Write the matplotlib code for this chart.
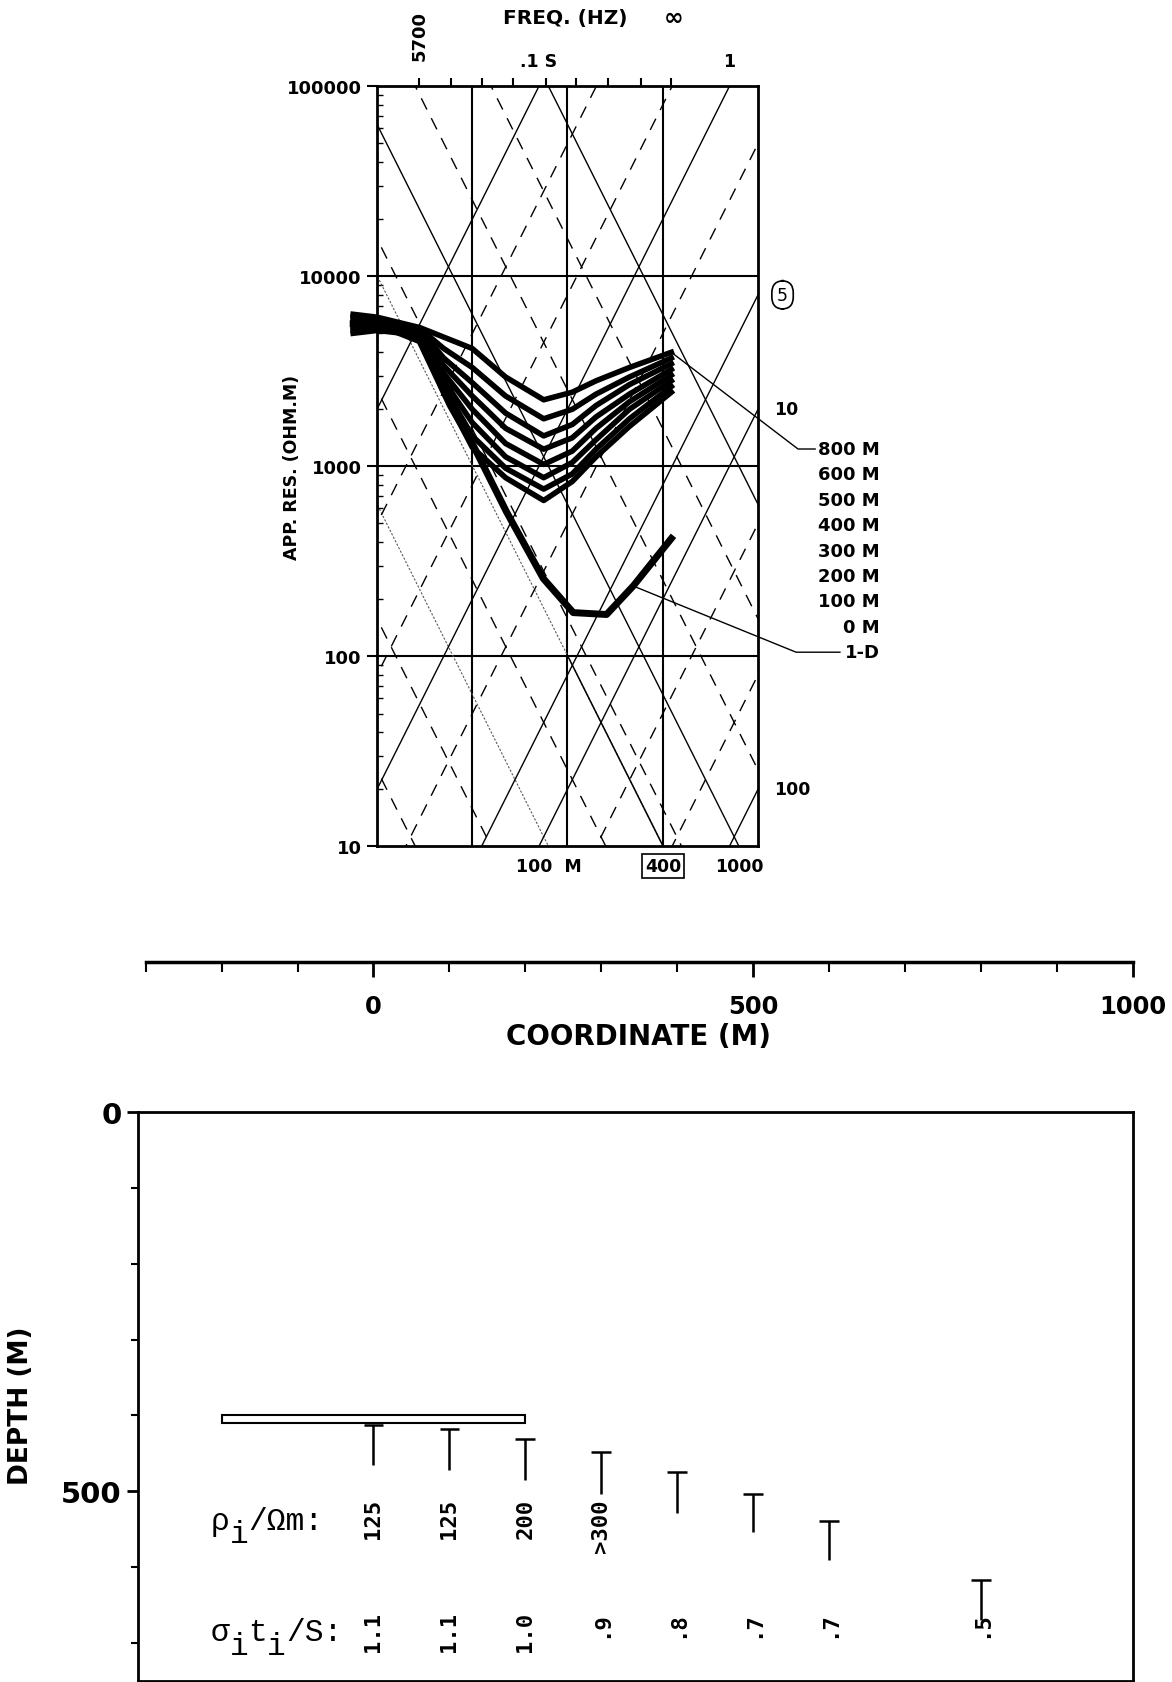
import numpy as np
import matplotlib.pyplot as plt
from matplotlib.patches import Rectangle
from matplotlib.ticker import NullFormatter

plt.rcParams['font.family'] = ['DejaVu Sans']
plt.rcParams['font.weight'] = 'bold'

# sounding curves: log10 apparent resistivity against period (decades from the left frame)
period = [-0.25, 0.0, 0.45, 0.7, 1.0, 1.35, 1.75, 2.05, 2.3, 2.65, 3.09]
res_800 = [3.80, 3.785, 3.73, 3.68, 3.62, 3.47, 3.35, 3.39, 3.45, 3.52, 3.60]
res_600 = [3.79, 3.775, 3.725, 3.62, 3.52, 3.37, 3.25, 3.30, 3.38, 3.47, 3.57]
res_500 = [3.775, 3.765, 3.72, 3.57, 3.44, 3.28, 3.16, 3.22, 3.32, 3.43, 3.54]
res_400 = [3.76, 3.755, 3.715, 3.53, 3.37, 3.20, 3.09, 3.15, 3.26, 3.38, 3.51]
res_300 = [3.745, 3.745, 3.71, 3.49, 3.30, 3.12, 3.01, 3.08, 3.20, 3.34, 3.48]
res_200 = [3.73, 3.735, 3.70, 3.45, 3.23, 3.05, 2.94, 3.02, 3.14, 3.30, 3.45]
res_100 = [3.715, 3.725, 3.695, 3.42, 3.16, 2.99, 2.88, 2.96, 3.09, 3.25, 3.42]
res_0 = [3.70, 3.715, 3.69, 3.39, 3.10, 2.94, 2.82, 2.92, 3.05, 3.21, 3.39]
curve_names = ['800 M', '600 M', '500 M', '400 M', '300 M', '200 M', '100 M', '0 M', '1-D']

period_1d = [-0.25, 0.0, 0.45, 0.77, 1.01, 1.36, 1.745, 2.06, 2.41, 2.69, 3.09]
res_1d = [3.75, 3.75, 3.66, 3.32, 3.11, 2.76, 2.41, 2.23, 2.22, 2.37, 2.62]

# nomogram: depth lines (m) and conductance lines (S)
depth_solid = [1000, 10000]
depth_faint = [100, 400]
depth_dashed = [20, 50, 200, 500, 2000, 5000]
depth_labels = [100, 400, 1000]
cond_solid = [0.1, 1, 5, 10, 100]
cond_dashed = [0.2, 0.5, 2, 20, 50]
cond_top_labels = [0.1, 1]
cond_right_labels = [5, 10, 100]
freq_ticks = [0.44, 0.78, 1.10, 1.43, 1.77, 2.09, 2.42, 2.77, 3.09]

# model section
station_x = [0, 100, 200, 300, 400, 500, 600, 800]
top_depth = [413, 418, 431, 448, 474, 503, 539, 617]
bottom_depth = [465, 472, 485, 503, 529, 554, 591, 669]
rho_text = ['125', '125', '200', '>300']
sigma_text = ['1.1', '1.1', '1.0', '.9', '.8', '.7', '.7', '.5']


def depth_rho(d, u):
    return d ** 2 * 10.0 ** (-1.2 - np.asarray(u))


def cond_rho(s, u):
    return 10.0 ** (1.3 + np.asarray(u)) / s ** 2


fig = plt.figure(figsize=(11.72, 16.83), dpi=100)
fig.patch.set_facecolor('white')

# ---------------- apparent resistivity panel ----------------
ax = fig.add_axes([0.32167, 0.49655, 0.32509, 0.45158])
ax.set_xlim(0, 4)
ax.set_yscale('log')
ax.set_ylim(10, 1e5)
for s in ax.spines.values():
    s.set_linewidth(2)

ax.set_yticks([10, 100, 1000, 1e4, 1e5], ['10', '100', '1000', '10000', '100000'])
ax.yaxis.set_minor_formatter(NullFormatter())
ax.tick_params(axis='y', which='major', direction='out', length=7, width=1.5,
               labelsize=13, pad=4)
ax.tick_params(axis='y', which='minor', direction='in', length=4, width=1)
ax.set_xticks(freq_ticks)
ax.tick_params(axis='x', which='both', bottom=False, top=True, direction='out',
               length=6, width=1.5, labelbottom=False, labeltop=False)

for yv in [100, 1000, 1e4]:
    ax.axhline(yv, color='black', lw=1.5)
for xv in [1, 2, 3]:
    ax.axvline(xv, color='black', lw=1.5)

u_line = np.array([-1.0, 5.0])
for d in depth_solid:
    ax.plot(u_line, depth_rho(d, u_line), color='black', lw=1.0)
for d in depth_dashed:
    ax.plot(u_line, depth_rho(d, u_line), color='black', lw=1.0, ls=(0, (9, 7)))
for d in depth_faint:
    ax.plot(u_line, depth_rho(d, u_line), color='0.35', lw=0.8, ls=(0, (2, 1.5)))
u_seg = np.array([2.0, 4.0])
ax.plot(u_seg, depth_rho(400, u_seg), color='black', lw=1.1)
for s in cond_solid:
    ax.plot(u_line, cond_rho(s, u_line), color='black', lw=1.0)
for s in cond_dashed:
    ax.plot(u_line, cond_rho(s, u_line), color='black', lw=1.0, ls=(0, (9, 7)))

# model curves
for vals in [res_800, res_600, res_500, res_400, res_300, res_200, res_100, res_0]:
    ax.plot(period, 10.0 ** np.array(vals), color='black', lw=4, clip_on=False,
            solid_joinstyle='round', zorder=5)
ax.plot(period_1d, 10.0 ** np.array(res_1d), color='black', lw=5, clip_on=False, zorder=5)

# curve labels with leaders
label_v = [1 + (847.3 - (450 + 25.4 * i)) / 190 for i in range(len(curve_names))]
for name, v in zip(curve_names, label_v):
    ax.text(5.28, 10 ** v, name, ha='right', va='center', fontsize=13)
ax.plot([period[-1], 4.42, 4.60], [10 ** res_800[-1], 10 ** label_v[0], 10 ** label_v[0]],
        color='black', lw=1.0, clip_on=False)
ax.plot([2.69, 4.40, 4.86], [10 ** 2.37, 10 ** label_v[-1], 10 ** label_v[-1]],
        color='black', lw=1.0, clip_on=False)

# nomogram annotations
for d in depth_labels:
    u_end = 2 * np.log10(d) - 2.2
    txt = '100  M' if d == 100 else str(d)
    box = dict(boxstyle='square,pad=0.15', fc='none', ec='black', lw=1.2) if d == 400 else None
    ax.text(u_end, -0.026, txt, transform=ax.get_xaxis_transform(), ha='center',
            va='center', fontsize=12.5, bbox=box)
for s in cond_top_labels:
    u_end = 3.7 + 2 * np.log10(s)
    ax.text(u_end, 1.033, '.1 S' if s == 0.1 else '1', transform=ax.get_xaxis_transform(),
            ha='center', va='center', fontsize=12.5)
for s in cond_right_labels:
    box = (dict(boxstyle='round,pad=0.3,rounding_size=0.7', fc='white', ec='black', lw=1.2)
           if s == 5 else None)
    ax.text(4.17 if s != 5 else 4.2, cond_rho(s, 4.0), str(s), ha='left', va='center',
            fontsize=12.5, weight='normal' if s == 5 else 'bold', bbox=box)

ax.text(0.45, 1.034, '5700', transform=ax.get_xaxis_transform(), rotation=90,
        ha='center', va='bottom', fontsize=13)
ax.text(1.98, 1.091, 'FREQ. (HZ)', transform=ax.get_xaxis_transform(),
        ha='center', va='center', fontsize=14.5)
ax.text(3.11, 1.091, '\u221e', transform=ax.get_xaxis_transform(),
        ha='center', va='center', fontsize=17)
fig.text(0.2491, 0.7225, 'APP. RES. (OHM.M)', rotation=90, ha='center', va='center',
         fontsize=12.5)

# ---------------- coordinate scale ----------------
cax = fig.add_axes([0.1244, 0.4278, 0.8419, 0.0001])
cax.set_xlim(-300, 1000)
for side in ['left', 'right', 'top']:
    cax.spines[side].set_visible(False)
cax.spines['bottom'].set_linewidth(2.5)
cax.set_yticks([])
cax.set_xticks([0, 500, 1000])
cax.set_xticks(range(-300, 1001, 100), minor=True)
cax.tick_params(which='major', length=11, width=2, pad=12, labelsize=17.5)
cax.tick_params(which='minor', length=7, width=1.5)
fig.text(0.5449, 0.3840, 'COORDINATE (M)', ha='center', va='center', fontsize=20)

# ---------------- depth section ----------------
bx = fig.add_axes([0.1179, 0.0006, 0.8484, 0.3381])
bx.set_xlim(-310, 1000)
bx.set_ylim(750, 0)
for s in bx.spines.values():
    s.set_linewidth(2)
bx.set_xticks([])
bx.set_yticks([0, 500])
bx.set_yticks(range(0, 751, 100), minor=True)
bx.tick_params(axis='y', which='major', length=8, width=2, labelsize=21, pad=4)
bx.tick_params(axis='y', which='minor', length=5, width=1.5)
fig.text(0.0183, 0.1646, 'DEPTH (M)', rotation=90, ha='center', va='center', fontsize=19)

bx.add_patch(Rectangle((-200, 400), 400, 10, facecolor='white', edgecolor='black', lw=1.5))

bx.vlines(station_x, top_depth, bottom_depth, color='black', lw=1.8)
bx.hlines(top_depth, np.array(station_x) - 13, np.array(station_x) + 13, color='black', lw=1.8)

for x, s in zip(station_x, rho_text):
    bx.text(x, 509, s, rotation=90, rotation_mode='anchor', ha='right', va='center',
            fontsize=16, family='DejaVu Sans Mono')
for x, s in zip(station_x, sigma_text):
    bx.text(x, 657, s, rotation=90, rotation_mode='anchor', ha='right', va='center',
            fontsize=16, family='DejaVu Sans Mono')


def mono_label(x, y, parts, fs=22.5):
    # fixed-pitch label; lowered parts act as subscripts
    pitch = 0.6 * fs
    k = 0
    for txt, low in parts:
        bx.annotate(txt, (x, y), xytext=(k * pitch, -0.42 * fs if low else 0),
                    textcoords='offset points', fontsize=fs, family='Liberation Mono',
                    weight='normal', ha='left', va='center')
        k += len(txt)


mono_label(-214, 539, [('\u03c1', False), ('i', True), ('/\u03a9m:', False)])
mono_label(-214, 686, [('\u03c3', False), ('i', True), ('t', False), ('i', True),
                       ('/S:', False)])

fig.savefig('out.png', dpi=100, facecolor='white')
